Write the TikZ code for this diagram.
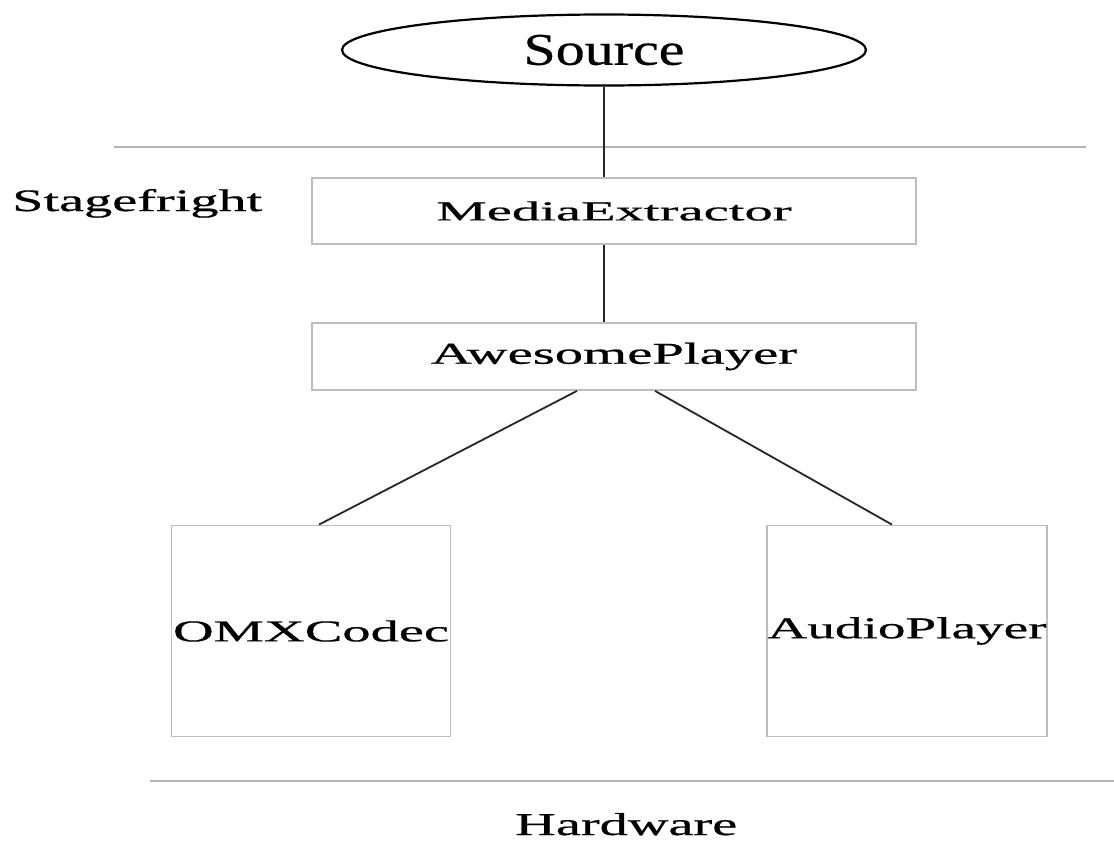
\documentclass[tikz,border=0pt]{standalone}
\usepackage{fontspec}
\setmainfont{Liberation Serif}
\newfontfamily\labelfont[FakeBold=0.5]{Liberation Serif}
\usetikzlibrary{shapes.geometric,calc}
\definecolor{framegray}{HTML}{BDBDBD}
\definecolor{rulegray}{HTML}{B4B4B4}
\definecolor{linkgray}{HTML}{262626}
% text scaled to a given width and height (in pt)
\newcommand{\wtext}[3]{\resizebox{#1pt}{#2pt}{\labelfont #3}}
\begin{document}
\begin{tikzpicture}[x=1pt,y=-1pt,
  stagebox/.style={draw=framegray, line width=1.8pt, inner sep=0pt, fill=white},
  divider/.style={draw=rulegray, line width=1.6pt},
  link/.style={draw=linkgray, line width=1.8pt},
  caption/.style={inner sep=0pt, anchor=base west}]
  \useasboundingbox[fill=white] (0,0) rectangle (1114,841);

  % source
  \node[ellipse, draw=black, line width=2.2pt, inner sep=0pt,
        minimum width=524pt, minimum height=71pt] (src) at (604,50)
        {\wtext{161}{30}{Source}};

  % layer dividers and layer names
  \coordinate (topL) at (114,147);
  \coordinate (topR) at (1086,147);
  \coordinate (botL) at (150,781);
  \coordinate (botR) at (1114,781);
  \draw[divider] (topL) -- (topR);
  \draw[divider] (botL) -- (botR);
  \node[caption] (stage) at (12,211) {\wtext{250}{22}{Stagefright}};
  \node[caption] (hw) at (515,835) {\wtext{222}{22}{Hardware}};

  % components
  \node[stagebox, minimum width=604pt, minimum height=66pt] (me) at (614,211)
        {\wtext{355}{19}{MediaExtractor}};
  \node[stagebox, minimum width=604pt, minimum height=67pt] (ap) at (614,356.5)
        {\wtext{366}{21}{AwesomePlayer}};
  \node[stagebox, minimum width=279pt, minimum height=211pt] (omx) at (311,631)
        {\wtext{276}{21}{OMXCodec}};
  \node[stagebox, minimum width=280pt, minimum height=211pt] (aud) at (907,631)
        {\wtext{279}{21}{AudioPlayer}};

  % connections
  \draw[link] (src.south) -- (src.south |- me.north);
  \draw[link] (src.south |- me.south) -- (src.south |- ap.north);
  \draw[link] ($(ap.south)+(-37,0)$) -- ($(omx.north)+(8,0)$);
  \draw[link] ($(ap.south)+(41,0)$) -- ($(aud.north)+(-15,0)$);
\end{tikzpicture}
\end{document}
